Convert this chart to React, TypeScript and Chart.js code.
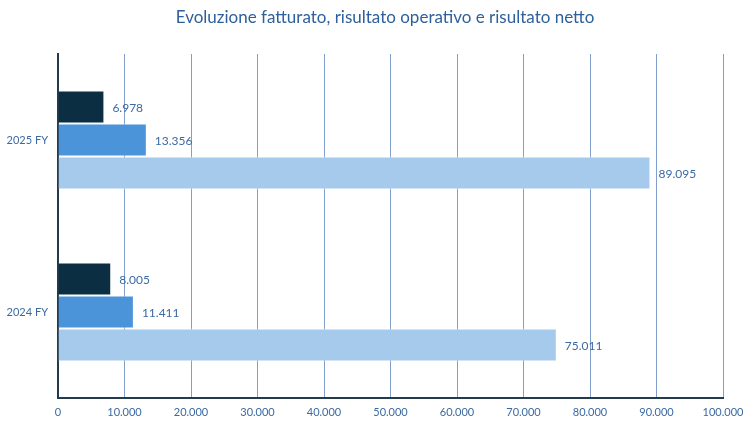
import React, { useEffect, useRef } from 'react';
import { Chart, ChartConfiguration, Plugin, registerables } from 'chart.js';

Chart.register(...registerables);

const categories = ['2025 FY', '2024 FY'];
const risultatoNetto = [6978, 8005];
const risultatoOperativo = [13356, 11411];
const fatturato = [89095, 75011];
const titolo = 'Evoluzione fatturato, risultato operativo e risultato netto';

const TEXT_COLOR = '#3B6AA3';
const FONT = 'Lato, "Open Sans", sans-serif';

// formato italiano con il punto come separatore delle migliaia
const fmt = (v: number) => String(Math.round(v)).replace(/\B(?=(\d{3})+(?!\d))/g, '.');

const valueLabels: Plugin<'bar'> = {
  id: 'valueLabels',
  afterDatasetsDraw(chart) {
    const ctx = chart.ctx;
    ctx.save();
    ctx.font = `12px ${FONT}`;
    ctx.fillStyle = TEXT_COLOR;
    ctx.textAlign = 'left';
    ctx.textBaseline = 'middle';
    chart.data.datasets.forEach((ds, i) => {
      const meta = chart.getDatasetMeta(i);
      meta.data.forEach((el, j) => {
        const v = ds.data[j] as number;
        ctx.fillText(fmt(v), el.x + 8, el.y + 1);
      });
    });
    ctx.restore();
  }
};

// titolo disegnato a mano: nell'originale è spostato a destra rispetto al centro
const titlePlugin: Plugin<'bar'> = {
  id: 'titlePlugin',
  afterDraw(chart) {
    const ctx = chart.ctx;
    ctx.save();
    ctx.font = `17px ${FONT}`;
    ctx.fillStyle = '#2E609B';
    ctx.textAlign = 'center';
    ctx.textBaseline = 'middle';
    ctx.fillText(titolo, 385, 18);
    ctx.restore();
  }
};

const BarChart: React.FC = () => {
  const chartRef = useRef<HTMLCanvasElement>(null);
  const chartInstance = useRef<Chart | null>(null);

  useEffect(() => {
    if (!chartRef.current) return;
    const ctx = chartRef.current.getContext('2d');
    if (!ctx) return;

    const common = {
      borderWidth: 1,
      borderColor: 'rgba(255,255,255,0.55)',
      barPercentage: 1,
      categoryPercentage: 0.576
    };

    const config: ChartConfiguration<'bar'> = {
      type: 'bar',
      data: {
        labels: categories,
        datasets: [
          { label: 'Risultato netto', data: risultatoNetto, backgroundColor: '#0B2E42', ...common },
          { label: 'Risultato operativo', data: risultatoOperativo, backgroundColor: '#4C94DA', ...common },
          { label: 'Fatturato', data: fatturato, backgroundColor: '#A6CAEC', ...common }
        ]
      },
      options: {
        indexAxis: 'y',
        responsive: false,
        maintainAspectRatio: false,
        animation: false,
        layout: { padding: { left: 0, right: 30, top: 54, bottom: 0 } },
        plugins: {
          legend: { display: false },
          tooltip: { enabled: false },
          title: { display: false }
        },
        scales: {
          x: {
            min: 0,
            max: 100000,
            ticks: {
              stepSize: 10000,
              color: TEXT_COLOR,
              font: { family: FONT, size: 11 },
              padding: 8,
              maxRotation: 0,
              callback: (v) => fmt(Number(v))
            },
            grid: { color: '#819FCB', lineWidth: 1, drawTicks: false },
            border: { color: '#243B4E', width: 2 },
            afterFit: (scale) => { scale.height = 28; }
          },
          y: {
            ticks: {
              color: TEXT_COLOR,
              font: { family: FONT, size: 11 },
              padding: 10
            },
            grid: { display: false, drawTicks: false },
            border: { color: '#243B4E', width: 2 },
            afterFit: (scale) => { scale.width = 58; }
          }
        }
      },
      plugins: [valueLabels, titlePlugin]
    };

    chartInstance.current = new Chart(ctx, config);

    return () => {
      if (chartInstance.current) {
        chartInstance.current.destroy();
        chartInstance.current = null;
      }
    };
  }, []);

  return (
    <div style={{ position: 'absolute', left: 0, top: 0, width: 753, height: 426, background: '#fff' }}>
      <canvas ref={chartRef} width={753} height={426} style={{ width: 753, height: 426 }}></canvas>
    </div>
  );
};

export default function App() {
  return <BarChart />;
}
